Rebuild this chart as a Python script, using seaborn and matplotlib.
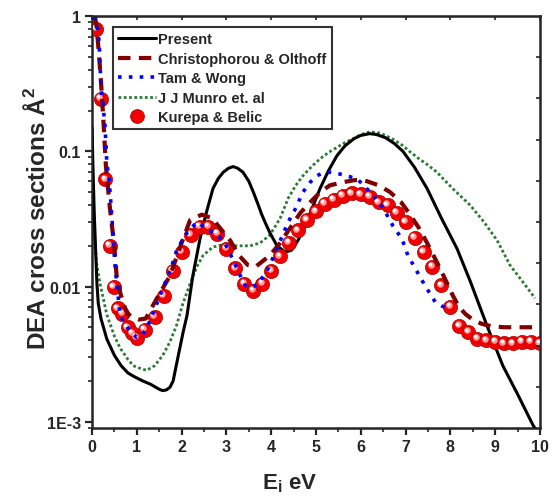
import seaborn as sns
import matplotlib
matplotlib.use("Agg")
import matplotlib.pyplot as plt
import matplotlib.transforms as mtransforms
from matplotlib.lines import Line2D
import pandas as pd

# ---- data ----
present_x = [0.0, 0.02, 0.05, 0.08, 0.11, 0.14, 0.2, 0.33, 0.5, 0.65, 0.8, 0.95, 1.14, 1.3, 1.4,
             1.5, 1.58, 1.66, 1.74, 1.81, 1.88, 1.96, 2.04, 2.12, 2.25, 2.41, 2.56, 2.7, 2.82,
             2.93, 3.05, 3.15, 3.25, 3.37, 3.5, 3.6, 3.7, 3.79, 3.88, 3.97, 4.13, 4.31, 4.45,
             4.6, 4.71, 4.9, 5.09, 5.28, 5.47, 5.65, 5.85, 6.0, 6.2, 6.35, 6.55, 6.75, 6.94, 7.2,
             7.48, 7.8, 8.15, 8.44, 8.82, 9.17, 9.5, 9.84, 10.0]
present_y = [0.15, 0.08, 0.035, 0.019, 0.0105, 0.0075, 0.0058, 0.0041, 0.0031, 0.0026, 0.0023,
             0.00215, 0.0020, 0.0019, 0.00182, 0.00174, 0.0017, 0.00172, 0.0018, 0.0020, 0.0026,
             0.0035, 0.0047, 0.0061, 0.012, 0.0225, 0.036, 0.053, 0.063, 0.070, 0.075, 0.077,
             0.075, 0.070, 0.060, 0.050, 0.041, 0.034, 0.029, 0.025, 0.020, 0.018, 0.0185, 0.022,
             0.026, 0.037, 0.053, 0.072, 0.093, 0.110, 0.124, 0.131, 0.135, 0.133, 0.126, 0.114,
             0.100, 0.076, 0.053, 0.032, 0.019, 0.011, 0.0051, 0.0026, 0.0016, 0.00095, 0.00078]

christ_x = [0.06, 0.1, 0.15, 0.2, 0.25, 0.31, 0.4, 0.49, 0.55, 0.63, 0.7, 0.78, 0.9, 1.05, 1.2,
            1.45, 1.74, 2.0, 2.19, 2.45, 2.68, 2.9, 3.08, 3.28, 3.48, 3.65, 3.82, 3.97, 4.2, 4.42,
            4.65, 4.87, 5.1, 5.31, 5.6, 5.83, 6.0, 6.14, 6.4, 6.65, 6.9, 7.1, 7.3, 7.48, 7.77,
            8.06, 8.2, 8.35, 8.5, 8.7, 8.9, 9.2, 9.6, 10.0]
christ_y = [1.0, 0.85, 0.55, 0.33, 0.18, 0.078, 0.038, 0.021, 0.012, 0.009, 0.0075, 0.0064, 0.0059,
            0.0057, 0.0058, 0.0082, 0.012, 0.021, 0.031, 0.034, 0.032, 0.026, 0.022, 0.017, 0.0144,
            0.014, 0.0155, 0.017, 0.021, 0.027, 0.035, 0.042, 0.050, 0.056, 0.059, 0.061, 0.0615,
            0.060, 0.056, 0.050, 0.042, 0.034, 0.027, 0.021, 0.0136, 0.0085, 0.0070, 0.0062,
            0.0057, 0.0053, 0.0051, 0.0050, 0.0050, 0.0050]

tam_x = [0.06, 0.11, 0.16, 0.2, 0.25, 0.29, 0.33, 0.38, 0.42, 0.47, 0.51, 0.56, 0.63, 0.75, 0.85,
         1.0, 1.1, 1.22, 1.35, 1.52, 1.65, 1.79, 1.89, 2.08, 2.34, 2.63, 2.93, 3.1, 3.26, 3.42,
         3.55, 3.71, 3.93, 4.08, 4.24, 4.38, 4.53, 4.71, 4.87, 5.02, 5.15, 5.31, 5.45, 5.6, 5.75,
         5.92, 6.05, 6.2, 6.35, 6.5, 6.72, 6.92, 7.05, 7.25, 7.43, 7.66, 7.8, 7.95, 8.0]
tam_y = [1.0, 0.87, 0.64, 0.30, 0.21, 0.155, 0.083, 0.063, 0.042, 0.024, 0.015, 0.010, 0.0061,
         0.0052, 0.0047, 0.0042, 0.0043, 0.0049, 0.0062, 0.0086, 0.011, 0.0145, 0.0185, 0.024,
         0.030, 0.026, 0.022, 0.017, 0.013, 0.0102, 0.0098, 0.0105, 0.0135, 0.0175, 0.0234, 0.030,
         0.037, 0.050, 0.059, 0.066, 0.069, 0.070, 0.069, 0.067, 0.065, 0.062, 0.057, 0.050,
         0.044, 0.038, 0.028, 0.0225, 0.017, 0.013, 0.0102, 0.0077, 0.0072, 0.0069, 0.0069]

munro_x = [0.0, 0.03, 0.06, 0.1, 0.18, 0.33, 0.5, 0.63, 0.8, 0.92, 1.05, 1.22, 1.4, 1.58, 1.74,
           1.89, 2.03, 2.19, 2.34, 2.48, 2.7, 2.93, 3.24, 3.53, 3.75, 3.97, 4.2, 4.38, 4.55, 4.71,
           4.9, 5.09, 5.28, 5.47, 5.65, 5.85, 6.0, 6.2, 6.4, 6.55, 6.75, 6.94, 7.1, 7.3, 7.5, 7.7,
           8.05, 8.44, 8.75, 9.04, 9.33, 9.6, 9.89]
munro_y = [0.09, 0.04, 0.022, 0.015, 0.0105, 0.0062, 0.0043, 0.0035, 0.0029, 0.0026, 0.0025,
           0.0024, 0.0026, 0.0031, 0.0039, 0.0052, 0.0075, 0.0105, 0.014, 0.017, 0.0196, 0.0204,
           0.020, 0.020, 0.021, 0.024, 0.032, 0.045, 0.056, 0.066, 0.077, 0.088, 0.098, 0.107,
           0.116, 0.125, 0.133, 0.139, 0.137, 0.131, 0.121, 0.11, 0.099, 0.088, 0.079, 0.070,
           0.053, 0.040, 0.030, 0.022, 0.0144, 0.011, 0.0082]

kurepa_x = [0.1, 0.2, 0.3, 0.4, 0.48, 0.58, 0.68, 0.8, 0.9, 1.0, 1.18, 1.4, 1.6, 1.8, 2.0, 2.2,
            2.4, 2.6, 2.8, 3.0, 3.2, 3.4, 3.6, 3.8, 4.0, 4.2, 4.4, 4.6, 4.8, 5.0, 5.2, 5.4, 5.6,
            5.8, 6.0, 6.2, 6.4, 6.6, 6.8, 7.0, 7.2, 7.4, 7.6, 7.8, 8.0, 8.2, 8.4, 8.6, 8.8, 9.0,
            9.2, 9.4, 9.6, 9.8, 10.0]
kurepa_y = [0.80, 0.245, 0.062, 0.020, 0.0099, 0.0069, 0.0063, 0.0050, 0.0045, 0.0042, 0.0048,
            0.0060, 0.0085, 0.0131, 0.018, 0.024, 0.0277, 0.0277, 0.0246, 0.019, 0.0136, 0.0105,
            0.0093, 0.0105, 0.013, 0.0167, 0.021, 0.026, 0.031, 0.036, 0.041, 0.044, 0.047, 0.049,
            0.048, 0.046, 0.042, 0.040, 0.035, 0.030, 0.023, 0.018, 0.014, 0.0102, 0.0071, 0.0051,
            0.0046, 0.0041, 0.0040, 0.0039, 0.0038, 0.0038, 0.0039, 0.0039, 0.0038]

labels = ["Present", "Christophorou & Olthoff", "Tam & Wong", "J J Munro et. al", "Kurepa & Belic"]

sns.set_style("ticks")
plt.rcParams['font.family'] = ['Liberation Sans', 'DejaVu Sans']
plt.rcParams['font.weight'] = 'bold'
plt.rcParams['mathtext.fontset'] = 'custom'
plt.rcParams['mathtext.rm'] = 'Liberation Sans:bold'
plt.rcParams['mathtext.bf'] = 'Liberation Sans:bold'
plt.rcParams['mathtext.it'] = 'Liberation Sans:bold'

fig = plt.figure(figsize=(5.56, 5.02), dpi=100)
ax = fig.add_axes([92/556, 1-429/502, 448/556, 412/502])

green = '#2a7b34'
maroon = '#7f0000'
present_df = pd.DataFrame({'x': present_x, 'y': present_y})
christ_df = pd.DataFrame({'x': christ_x, 'y': christ_y})
tam_df = pd.DataFrame({'x': tam_x, 'y': tam_y})
munro_df = pd.DataFrame({'x': munro_x, 'y': munro_y})
kurepa_df = pd.DataFrame({'x': kurepa_x, 'y': kurepa_y})

sns.lineplot(data=munro_df, x='x', y='y', ax=ax, sort=False, estimator=None, color=green,
             lw=2.0, linestyle=(0, (1, 0.9)), zorder=2)
sns.lineplot(data=present_df, x='x', y='y', ax=ax, sort=False, estimator=None, color='black',
             lw=2.2, zorder=3)

# spheres: red ball + offset highlight
sns.scatterplot(data=kurepa_df, x='x', y='y', ax=ax, s=105, color='#f00000',
                edgecolor='#b00000', linewidth=0.5, zorder=4)
hl1 = mtransforms.offset_copy(ax.transData, fig=fig, x=-1.2, y=1.2, units='points')
hl2 = mtransforms.offset_copy(ax.transData, fig=fig, x=-1.8, y=1.8, units='points')
ax.scatter(kurepa_x, kurepa_y, s=22, color='#ff9a9a', linewidth=0, transform=hl1, zorder=5)
ax.scatter(kurepa_x, kurepa_y, s=7, color='white', linewidth=0, transform=hl2, zorder=6)

sns.lineplot(data=christ_df, x='x', y='y', ax=ax, sort=False, estimator=None, color=maroon,
             lw=3.0, linestyle=(0, (3, 2)), zorder=7)
sns.lineplot(data=tam_df, x='x', y='y', ax=ax, sort=False, estimator=None, color='blue',
             lw=2.6, linestyle=(0, (1, 2)), zorder=8)

ax.set_yscale('log')
ax.set_xlim(0, 10)
ax.set_ylim(9.0e-4, 1)
ax.set_xticks(range(0, 11))
ax.set_xticks([i + 0.5 for i in range(10)], minor=True)
ax.set_yticks([1e-3, 1e-2, 1e-1, 1])
ax.set_yticklabels(['1E-3', '0.01', '0.1', '1'])
ax.tick_params(axis='both', which='major', direction='out', length=5, width=1.6,
               labelsize=11.5, pad=3)
ax.tick_params(axis='both', which='minor', direction='out', length=3, width=1.2)
for lab in ax.get_xticklabels() + ax.get_yticklabels():
    lab.set_fontweight('bold')
for sp in ax.spines.values():
    sp.set_linewidth(1.8)
    sp.set_visible(True)

# mirror ticks (inward) on top and right
top = ax.secondary_xaxis('top')
top.set_xticks(range(0, 11))
top.tick_params(direction='in', length=3, width=1.2, labeltop=False)
right = ax.twinx()
right.set_ylim(0, 10)
right.set_yticks(range(1, 10))
right.tick_params(direction='in', length=3, width=1.2, labelright=False)
right.grid(False)

ax.set_xlabel(r"E$_{\mathbf{i}}$ eV", fontsize=16, fontweight='bold')
ax.set_ylabel(r"DEA cross sections Å$^{\mathbf{2}}$", fontsize=17.5, fontweight='bold')
ax.xaxis.set_label_coords(0.442, -0.105)
ax.yaxis.set_label_coords(-0.093, 0.51)

handles = [
    Line2D([], [], color='black', lw=2.2),
    Line2D([], [], color=maroon, lw=3.0, linestyle=(0, (3, 2))),
    Line2D([], [], color='blue', lw=2.6, linestyle=(0, (1, 2))),
    Line2D([], [], color=green, lw=2.0, linestyle=(0, (1, 0.9))),
    Line2D([], [], color='#f00000', marker='o', markersize=10, lw=0,
           markeredgecolor='#b00000', markeredgewidth=0.5),
]
leg = ax.legend(handles, labels, loc='upper left', bbox_to_anchor=(0.047, 0.973),
                borderaxespad=0, frameon=True, fancybox=False, edgecolor='black',
                prop={'family': 'Liberation Sans', 'weight': 'bold', 'size': 10.5},
                handlelength=2.6, handletextpad=0.15, labelspacing=0.38, borderpad=0.35)
leg.get_frame().set_linewidth(1.5)
leg.set_zorder(20)

fig.savefig("out.png", dpi=100)
